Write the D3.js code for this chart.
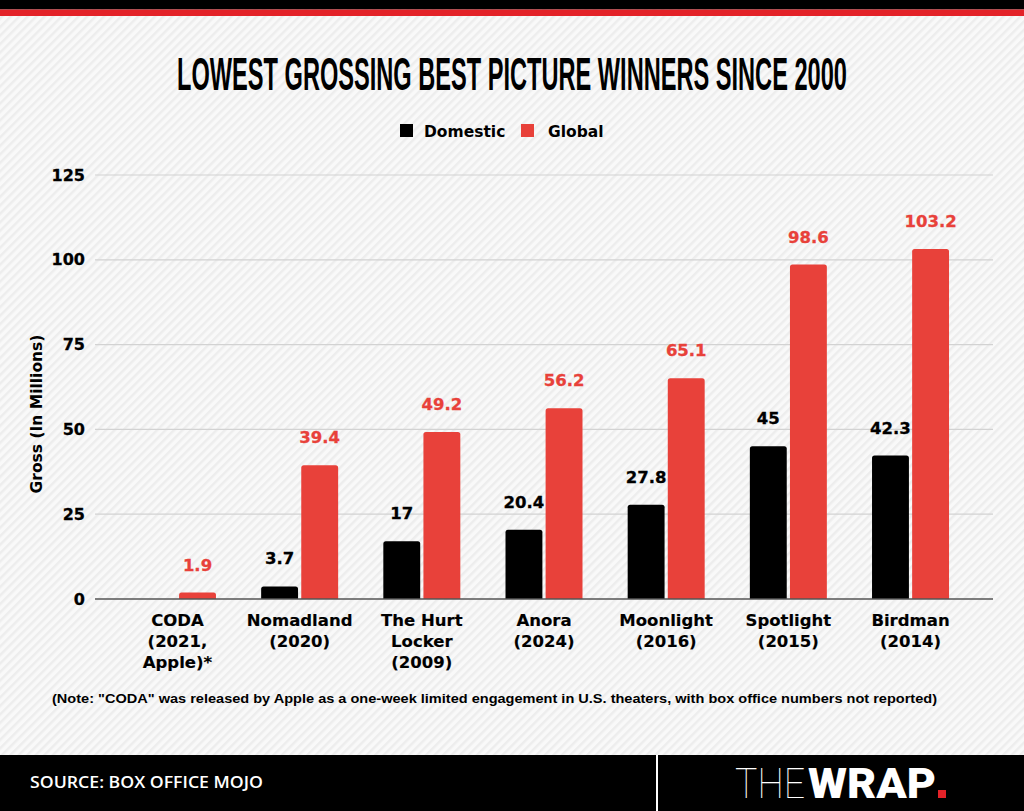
<!DOCTYPE html>
<html>
<head>
<meta charset="utf-8">
<script src="https://cdn.jsdelivr.net/npm/d3@7"></script>
<style>
  html, body { margin: 0; padding: 0; background: #f4f4f4; }
  svg { display: block; }
</style>
</head>
<body>
<svg id="chart"></svg>
<script>
// data (millions of dollars)
const films = ["CODA", "Nomadland", "The Hurt Locker", "Anora", "Moonlight", "Spotlight", "Birdman"];
const filmLabels = [
  ["CODA", "(2021,", "Apple)*"],
  ["Nomadland", "(2020)"],
  ["The Hurt", "Locker", "(2009)"],
  ["Anora", "(2024)"],
  ["Moonlight", "(2016)"],
  ["Spotlight", "(2015)"],
  ["Birdman", "(2014)"]
];
const domestic = [null, 3.7, 17, 20.4, 27.8, 45, 42.3];
const global = [1.9, 39.4, 49.2, 56.2, 65.1, 98.6, 103.2];
const seriesNames = ["Domestic", "Global"];
const yTicks = [0, 25, 50, 75, 100, 125];

const width = 1024, height = 811;
const black = "#000000", red = "#e8413a";
const labelFont = "'DejaVu Sans', sans-serif";

const svg = d3.select("#chart").attr("width", width).attr("height", height);

// striped background
const defs = svg.append("defs");
defs.append("pattern")
  .attr("id", "stripes")
  .attr("patternUnits", "userSpaceOnUse")
  .attr("width", 6).attr("height", 6)
  .attr("patternTransform", "rotate(45)")
  .call(p => {
    p.append("rect").attr("width", 6).attr("height", 6).attr("fill", "#f9f9f9");
    p.append("rect").attr("width", 2.5).attr("height", 6).attr("fill", "#ededed");
  });
svg.append("rect").attr("width", width).attr("height", height).attr("fill", "url(#stripes)");

// top bars
svg.append("rect").attr("x", 0).attr("y", 0).attr("width", width).attr("height", 9.5).attr("fill", "#000");
svg.append("rect").attr("x", 0).attr("y", 9.5).attr("width", width).attr("height", 6.5).attr("fill", "#e32228");

// title, squeezed horizontally to the condensed look of the original
const titleG = svg.append("g");
const title = titleG.append("text")
  .attr("x", 0).attr("y", 0)
  .attr("text-anchor", "middle")
  .style("font-family", "'Liberation Sans Narrow', 'Liberation Sans', sans-serif")
  .style("font-weight", "bold").style("font-size", "46px")
  .attr("fill", "#000")
  .text("LOWEST GROSSING BEST PICTURE WINNERS SINCE 2000");
const titleLen = title.node().getComputedTextLength();
titleG.attr("transform", `translate(512,90) scale(${670 / titleLen},1)`);

// legend
const legend = svg.append("g").style("font-family", labelFont).style("font-weight", "bold").style("font-size", "15.5px");
const legendX = [400, 521];
seriesNames.forEach((name, i) => {
  legend.append("rect").attr("x", legendX[i]).attr("y", 124).attr("width", 13).attr("height", 13)
    .attr("fill", i === 0 ? black : red);
  legend.append("text").attr("x", legendX[i] + 24 + (i === 1 ? 3 : 0)).attr("y", 137).attr("fill", "#000").text(name);
});

// scales
const x0 = d3.scalePoint().domain(films).range([95, 993]).padding(0.675);
const x1 = d3.scaleBand().domain(seriesNames).range([-38.5, 38.5]).paddingInner(0.08);
const y = d3.scaleLinear().domain([0, 125]).range([599, 175]);

// gridlines
svg.append("g")
  .selectAll("line")
  .data(yTicks.filter(d => d > 0))
  .join("line")
  .attr("x1", 95).attr("x2", 993)
  .attr("y1", d => y(d)).attr("y2", d => y(d))
  .attr("stroke", "#d2d2d2").attr("stroke-width", 1.2);

// y axis
const yAxis = svg.append("g")
  .attr("transform", "translate(95,0)")
  .call(d3.axisLeft(y).tickValues(yTicks).tickSize(0).tickPadding(10));
yAxis.select(".domain").remove();
yAxis.selectAll("text")
  .style("font-family", labelFont).style("font-weight", "bold").style("font-size", "16px")
  .attr("fill", "#000").attr("stroke", "#000").attr("stroke-width", 0.3);

svg.append("text")
  .attr("transform", "translate(42,414) rotate(-90)")
  .attr("text-anchor", "middle")
  .style("font-family", labelFont).style("font-weight", "bold").style("font-size", "15.5px")
  .attr("fill", "#000")
  .text("Gross (In Millions)");

// bars
const rows = films.map((f, i) => ({ film: f, values: [
  { key: "Domestic", value: domestic[i] },
  { key: "Global", value: global[i] }
]}));

function topRounded(x, y0, w, h, r) {
  r = Math.min(r, h, w / 2);
  return `M${x},${y0 + h}V${y0 + r}Q${x},${y0} ${x + r},${y0}H${x + w - r}Q${x + w},${y0} ${x + w},${y0 + r}V${y0 + h}Z`;
}

const groups = svg.append("g")
  .selectAll("g")
  .data(rows)
  .join("g")
  .attr("transform", d => `translate(${x0(d.film)},0)`);

groups.selectAll("path")
  .data(d => d.values.filter(v => v.value != null))
  .join("path")
  .attr("d", d => topRounded(x1(d.key), y(d.value), x1.bandwidth(), y(0) - y(d.value), 2.5))
  .attr("fill", d => d.key === "Domestic" ? black : red);

groups.selectAll("text.val")
  .data(d => d.values.filter(v => v.value != null))
  .join("text")
  .attr("class", "val")
  .attr("x", d => x1(d.key) + x1.bandwidth() / 2)
  .attr("y", d => y(d.value) - 22)
  .attr("text-anchor", "middle")
  .style("font-family", labelFont).style("font-weight", "bold").style("font-size", "16.5px")
  .attr("fill", d => d.key === "Domestic" ? black : red)
  .attr("stroke", d => d.key === "Domestic" ? black : red).attr("stroke-width", 0.3)
  .text(d => d.value);

// zero line
svg.append("line")
  .attr("x1", 95).attr("x2", 993).attr("y1", y(0)).attr("y2", y(0))
  .attr("stroke", "#555").attr("stroke-width", 1.5);

// category labels
const cats = svg.append("g")
  .style("font-family", labelFont).style("font-weight", "bold").style("font-size", "16.5px");
films.forEach((f, i) => {
  const t = cats.append("text").attr("text-anchor", "middle").attr("fill", "#000")
    .attr("stroke", "#000").attr("stroke-width", 0.15);
  filmLabels[i].forEach((line, j) => {
    t.append("tspan").attr("x", x0(f)).attr("y", 626 + j * 21).text(line);
  });
});

// note
svg.append("text")
  .attr("x", 52).attr("y", 703)
  .attr("textLength", 885).attr("lengthAdjust", "spacingAndGlyphs")
  .style("font-family", "'Liberation Sans', Arial, sans-serif")
  .style("font-weight", "bold").style("font-size", "13.5px")
  .attr("fill", "#000")
  .text("(Note: \"CODA\" was released by Apple as a one-week limited engagement in U.S. theaters, with box office numbers not reported)");

// footer
svg.append("rect").attr("x", 0).attr("y", 755).attr("width", width).attr("height", height - 755).attr("fill", "#000");
svg.append("rect").attr("x", 656).attr("y", 755).attr("width", 2).attr("height", height - 755).attr("fill", "#fff");

svg.append("text")
  .attr("x", 30).attr("y", 788)
  .attr("textLength", 233).attr("lengthAdjust", "spacingAndGlyphs")
  .style("font-family", "'Open Sans', sans-serif").style("font-weight", 600).style("font-size", "17px")
  .attr("fill", "#fff")
  .text("SOURCE: BOX OFFICE MOJO");

svg.append("text")
  .attr("x", 735).attr("y", 798)
  .attr("textLength", 70).attr("lengthAdjust", "spacingAndGlyphs")
  .style("font-family", "Roboto, sans-serif").style("font-weight", 100).style("font-size", "43px")
  .attr("fill", "#fff")
  .text("THE");
svg.append("text")
  .attr("x", 808).attr("y", 798)
  .attr("textLength", 128).attr("lengthAdjust", "spacingAndGlyphs")
  .style("font-family", "Roboto, sans-serif").style("font-weight", 900).style("font-size", "43px")
  .attr("fill", "#fff")
  .text("WRAP");
svg.append("rect").attr("x", 938).attr("y", 790).attr("width", 8).attr("height", 8).attr("fill", "#e32228");
</script>
</body>
</html>
